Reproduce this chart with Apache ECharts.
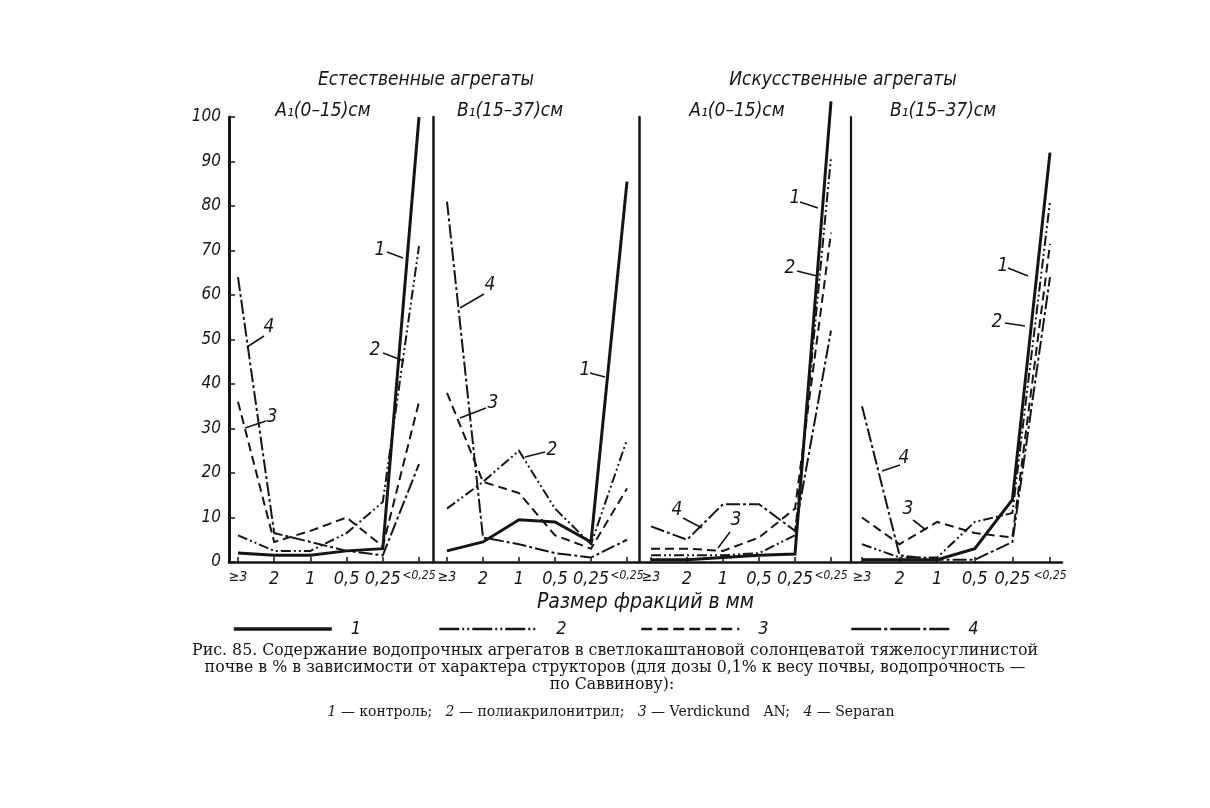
<!DOCTYPE html>
<html><head><meta charset="utf-8">
<script src="https://cdn.jsdelivr.net/npm/echarts@6/dist/echarts.min.js"></script>
<style>html,body{margin:0;padding:0;background:#fff}#c{width:1210px;height:808px}</style>
</head><body><div id="c"></div>
<script>
// ---------- DATA ----------
const categories = ['≥3', '2', '1', '0,5', '0,25', '<0,25'];
const seriesNames = ['1', '2', '3', '4'];
const groupTitles = ['Естественные агрегаты', 'Искусственные агрегаты'];
const panelTitles = ['A₁(0–15)см', 'B₁(15–37)см', 'A₁(0–15)см', 'B₁(15–37)см'];
const xAxisName = 'Размер фракций в мм';
const yMin = 0, yMax = 100, yStep = 10;

// Естественные агрегаты, A1 (0-15 см)
const natA_1 = [2, 1.5, 1.5, 2.5, 3, 100];
const natA_2 = [6, 2.5, 2.5, 6.5, 13.5, 71];
const natA_3 = [36, 4.5, 7, 10, 3.5, 36];
const natA_4 = [64, 6.5, 4.5, 2.5, 1.5, 22];
// Естественные агрегаты, B1 (15-37 см)
const natB_1 = [2.5, 4.5, 9.5, 9, 4.5, 85.5];
const natB_2 = [12, 18, 25, 12, 4, 27.5];
const natB_3 = [38, 18, 15.5, 6, 3, 16.5];
const natB_4 = [81, 5.5, 4, 2, 1, 5];
// Искусственные агрегаты, A1 (0-15 см)
const artA_1 = [0.5, 0.5, 1, 1.5, 1.8, 103.5];
const artA_2 = [1.5, 1.5, 1.5, 2, 6, 91];
const artA_3 = [3, 3, 2.5, 5.5, 12, 74];
const artA_4 = [8, 5, 13, 13, 7, 52];
// Искусственные агрегаты, B1 (15-37 см)
const artB_1 = [0.5, 0.5, 0.5, 3, 14, 92];
const artB_2 = [4, 1, 1, 9, 11, 81];
const artB_3 = [10, 4, 9, 6.5, 5.5, 71.5];
const artB_4 = [35, 1.5, 0.5, 0.5, 4.5, 64];

const panels = [
  [natA_1, natA_2, natA_3, natA_4],
  [natB_1, natB_2, natB_3, natB_4],
  [artA_1, artA_2, artA_3, artA_4],
  [artB_1, artB_2, artB_3, artB_4]
];

const captionLines = [
  'Рис. 85. Содержание водопрочных агрегатов в светлокаштановой солонцеватой тяжелосуглинистой',
  'почве в % в зависимости от характера структоров (для дозы 0,1% к весу почвы, водопрочность —',
  'по Саввинову):'
];
const captionKey = '{i|1} — контроль;   {i|2} — полиакрилонитрил;   {i|3} — Verdickund   AN;   {i|4} — Separan';

// ---------- LAYOUT / STYLE ----------
const ink = '#151515';
const narrow = "'Liberation Sans Narrow','DejaVu Sans Condensed',sans-serif";
const serif = "'DejaVu Serif','Liberation Serif',serif";
const gridTop = 117, gridHeight = 445;
const gridLayout = [
  {left: 238, width: 181, axisX: 229, axisW: 3},
  {left: 447, width: 180, axisX: 433, axisW: 2.5},
  {left: 651, width: 180, axisX: 639, axisW: 2.5},
  {left: 862, width: 188, axisX: 851, axisW: 2.2}
];
const lineStyles = [
  {type: 'solid', width: 3},
  {type: [10, 3, 2, 3, 2, 3], width: 2},
  {type: [9, 5], width: 2},
  {type: [14, 3, 3, 3], width: 2}
];
const legendLineStyles = [
  {type: 'solid', width: 3.5},
  {type: [20, 3, 2, 3, 2, 3], width: 2.5},
  {type: [11, 5], width: 2.5},
  {type: [30, 3, 3, 3], width: 2.5}
];
const titlePos = [{x: 426, y: 80}, {x: 843, y: 80}];
const panelTitlePos = [{x: 323, y: 111}, {x: 510, y: 111}, {x: 737, y: 111}, {x: 943, y: 111}];
const legendPos = [232, 438, 640, 850];

// annotation labels: [text, textX, textY, leaderX1, leaderY1, leaderX2, leaderY2]
const annotations = [
  ['1', 380, 250, 387, 252, 403, 258],
  ['2', 375, 350, 383, 353, 404, 361],
  ['4', 269, 327, 247, 347, 264, 336],
  ['3', 272, 417, 245, 428, 266, 421],
  ['4', 490, 285, 460, 308, 484, 294],
  ['3', 493, 403, 460, 418, 486, 408],
  ['2', 552, 450, 525, 457, 545, 452],
  ['1', 585, 370, 590, 373, 605, 377],
  ['1', 795, 198, 800, 202, 818, 208],
  ['2', 790, 268, 797, 271, 817, 276],
  ['4', 677, 510, 683, 518, 702, 528],
  ['3', 736, 520, 730, 532, 718, 548],
  ['1', 1003, 266, 1008, 268, 1028, 276],
  ['2', 997, 322, 1005, 323, 1025, 326],
  ['4', 904, 458, 900, 465, 882, 471],
  ['3', 908, 509, 913, 520, 926, 530]
];

// ---------- BUILD ----------
const grid = [], xAxis = [], yAxis = [], series = [], legend = [], graphic = [];

gridLayout.forEach((g, p) => {
  grid.push({left: g.left, width: g.width, top: gridTop, height: gridHeight});
  xAxis.push({
    type: 'category', gridIndex: p, data: categories, boundaryGap: false,
    axisLine: {show: false},
    axisTick: {show: true, inside: true, length: 5, interval: 0, lineStyle: {color: ink, width: 1.5}},
    axisLabel: {
      interval: 0, showMinLabel: true, showMaxLabel: true, margin: 8,
      color: ink, fontFamily: narrow, fontStyle: 'italic', fontSize: 18,
      formatter: v => v === categories[0] ? '{a|' + v + '}' : (v === categories[5] ? '{b|' + v + '}' : v),
      rich: {
        a: {fontFamily: narrow, fontStyle: 'italic', fontSize: 14, color: ink},
        b: {fontFamily: narrow, fontStyle: 'italic', fontSize: 12, color: ink, padding: [0, 0, 10, 0]}
      }
    },
    splitLine: {show: false}
  });
  yAxis.push({
    type: 'value', gridIndex: p, min: yMin, max: yMax, interval: yStep,
    offset: g.left - g.axisX,
    axisLine: {show: true, lineStyle: {color: ink, width: g.axisW}},
    axisTick: {show: p === 0, inside: true, length: 6, lineStyle: {color: ink, width: 1.5}},
    axisLabel: {show: p === 0, margin: 8, color: ink, fontFamily: narrow, fontStyle: 'italic', fontSize: 17},
    splitLine: {show: false}
  });
  panels[p].forEach((vals, s) => {
    series.push({
      type: 'line', name: seriesNames[s], xAxisIndex: p, yAxisIndex: p,
      data: vals, symbol: 'none', clip: false, silent: true,
      itemStyle: {color: ink},
      lineStyle: Object.assign({color: ink, cap: 'butt', join: 'miter'}, lineStyles[s])
    });
  });
});

// overall base line and axis name
grid.push({left: 229, width: 833, top: gridTop, height: gridHeight});
xAxis.push({
  type: 'value', gridIndex: 4, min: 0, max: 1,
  axisLine: {show: true, lineStyle: {color: ink, width: 2.5}},
  axisTick: {show: false}, axisLabel: {show: false}, splitLine: {show: false},
  name: xAxisName, nameLocation: 'middle', nameGap: 30,
  nameTextStyle: {color: ink, fontFamily: narrow, fontStyle: 'italic', fontSize: 21}
});
yAxis.push({type: 'value', gridIndex: 4, min: 0, max: 1, show: false});

seriesNames.forEach((n, i) => {
  legend.push({
    data: [n], left: legendPos[i], top: 620, padding: 0, itemWidth: 98, itemHeight: 16,
    selectedMode: false,
    itemStyle: {opacity: 0},
    lineStyle: Object.assign({color: ink}, legendLineStyles[i]),
    textStyle: {color: ink, fontFamily: narrow, fontStyle: 'italic', fontSize: 18, padding: [0, 0, 0, 14]}
  });
});

titlePos.forEach((t, i) => graphic.push({
  type: 'text', x: t.x, y: t.y, silent: true,
  style: {text: groupTitles[i], fill: ink, font: 'italic 19px ' + narrow, textAlign: 'center', textVerticalAlign: 'middle'}
}));
panelTitlePos.forEach((t, i) => graphic.push({
  type: 'text', x: t.x, y: t.y, silent: true,
  style: {text: panelTitles[i], fill: ink, font: 'italic 19px ' + narrow, textAlign: 'center', textVerticalAlign: 'middle'}
}));
annotations.forEach(a => {
  graphic.push({type: 'text', x: a[1], y: a[2], silent: true,
    style: {text: a[0], fill: ink, font: 'italic 19px ' + narrow, textAlign: 'center', textVerticalAlign: 'middle'}});
  graphic.push({type: 'line', silent: true, shape: {x1: a[3], y1: a[4], x2: a[5], y2: a[6]},
    style: {stroke: ink, lineWidth: 1.6}});
});
graphic.push({type: 'text', x: 615, y: 651, silent: true,
  style: {text: captionLines[0], fill: ink, font: '15.8px ' + serif, textAlign: 'center', textVerticalAlign: 'middle'}});
graphic.push({type: 'text', x: 615, y: 668, silent: true,
  style: {text: captionLines[1], fill: ink, font: '15.8px ' + serif, textAlign: 'center', textVerticalAlign: 'middle'}});
graphic.push({type: 'text', x: 612, y: 685, silent: true,
  style: {text: captionLines[2], fill: ink, font: '15.8px ' + serif, textAlign: 'center', textVerticalAlign: 'middle'}});
graphic.push({type: 'text', x: 611, y: 712, silent: true,
  style: {text: captionKey, fill: ink, font: '14px ' + serif, textAlign: 'center', textVerticalAlign: 'middle',
    rich: {i: {font: 'italic 14px ' + serif, fill: ink}}}});

const chart = echarts.init(document.getElementById('c'), null, {renderer: 'canvas'});
chart.setOption({
  backgroundColor: '#ffffff', animation: false,
  grid, xAxis, yAxis, series, legend, graphic
});
</script></body></html>
